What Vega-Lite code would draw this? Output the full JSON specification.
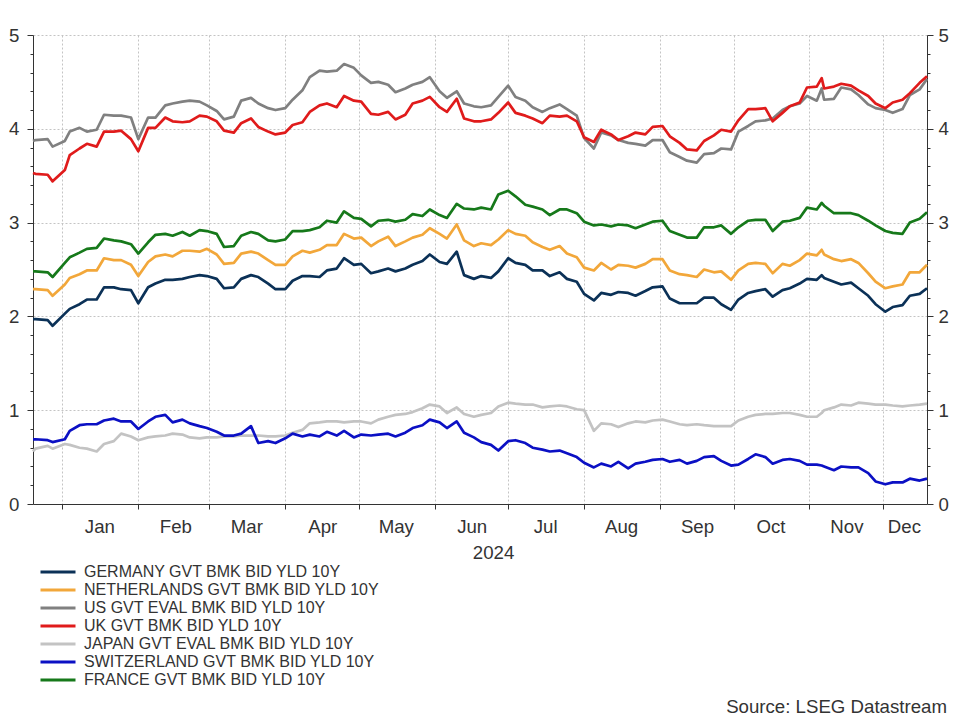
{
  "$schema": "https://vega.github.io/schema/vega-lite/v6.json",
  "width": 894,
  "height": 469,
  "autosize": {"type": "none"},
  "padding": {"left": 33, "top": 35, "right": 33, "bottom": 216},
  "background": "white",
  "datasets": {
    "yields": [
      {"date": "2023-12-20", "DE": 1.97, "NL": 2.29, "US": 3.87, "UK": 3.53, "JP": 0.56, "CH": 0.69, "FR": 2.48},
      {"date": "2023-12-21", "DE": 1.97, "NL": 2.29, "US": 3.88, "UK": 3.52, "JP": 0.59, "CH": 0.69, "FR": 2.48},
      {"date": "2023-12-26", "DE": 1.96, "NL": 2.28, "US": 3.89, "UK": 3.51, "JP": 0.62, "CH": 0.68, "FR": 2.47},
      {"date": "2023-12-28", "DE": 1.90, "NL": 2.22, "US": 3.81, "UK": 3.44, "JP": 0.59, "CH": 0.66, "FR": 2.42},
      {"date": "2024-01-02", "DE": 2.03, "NL": 2.34, "US": 3.87, "UK": 3.56, "JP": 0.64, "CH": 0.69, "FR": 2.57},
      {"date": "2024-01-04", "DE": 2.08, "NL": 2.41, "US": 3.97, "UK": 3.72, "JP": 0.63, "CH": 0.78, "FR": 2.63},
      {"date": "2024-01-08", "DE": 2.13, "NL": 2.45, "US": 4.01, "UK": 3.79, "JP": 0.60, "CH": 0.84, "FR": 2.68},
      {"date": "2024-01-11", "DE": 2.18, "NL": 2.49, "US": 3.97, "UK": 3.84, "JP": 0.59, "CH": 0.85, "FR": 2.72},
      {"date": "2024-01-15", "DE": 2.18, "NL": 2.49, "US": 3.99, "UK": 3.81, "JP": 0.56, "CH": 0.85, "FR": 2.73},
      {"date": "2024-01-18", "DE": 2.31, "NL": 2.62, "US": 4.15, "UK": 3.97, "JP": 0.64, "CH": 0.89, "FR": 2.83},
      {"date": "2024-01-22", "DE": 2.31, "NL": 2.60, "US": 4.14, "UK": 3.97, "JP": 0.67, "CH": 0.91, "FR": 2.81},
      {"date": "2024-01-25", "DE": 2.29, "NL": 2.60, "US": 4.14, "UK": 3.98, "JP": 0.75, "CH": 0.88, "FR": 2.80},
      {"date": "2024-01-29", "DE": 2.28, "NL": 2.55, "US": 4.12, "UK": 3.89, "JP": 0.72, "CH": 0.88, "FR": 2.77},
      {"date": "2024-02-01", "DE": 2.14, "NL": 2.43, "US": 3.89, "UK": 3.76, "JP": 0.68, "CH": 0.80, "FR": 2.67},
      {"date": "2024-02-05", "DE": 2.31, "NL": 2.58, "US": 4.12, "UK": 4.01, "JP": 0.71, "CH": 0.88, "FR": 2.79},
      {"date": "2024-02-08", "DE": 2.35, "NL": 2.64, "US": 4.12, "UK": 4.01, "JP": 0.72, "CH": 0.93, "FR": 2.87},
      {"date": "2024-02-12", "DE": 2.39, "NL": 2.66, "US": 4.25, "UK": 4.12, "JP": 0.73, "CH": 0.95, "FR": 2.88},
      {"date": "2024-02-15", "DE": 2.39, "NL": 2.64, "US": 4.27, "UK": 4.08, "JP": 0.75, "CH": 0.87, "FR": 2.86},
      {"date": "2024-02-19", "DE": 2.40, "NL": 2.70, "US": 4.29, "UK": 4.07, "JP": 0.74, "CH": 0.90, "FR": 2.90},
      {"date": "2024-02-22", "DE": 2.42, "NL": 2.70, "US": 4.30, "UK": 4.08, "JP": 0.71, "CH": 0.86, "FR": 2.86},
      {"date": "2024-02-26", "DE": 2.44, "NL": 2.69, "US": 4.29, "UK": 4.14, "JP": 0.70, "CH": 0.83, "FR": 2.92},
      {"date": "2024-02-29", "DE": 2.43, "NL": 2.72, "US": 4.25, "UK": 4.13, "JP": 0.71, "CH": 0.81, "FR": 2.91},
      {"date": "2024-03-04", "DE": 2.40, "NL": 2.66, "US": 4.19, "UK": 4.08, "JP": 0.71, "CH": 0.77, "FR": 2.88},
      {"date": "2024-03-07", "DE": 2.30, "NL": 2.56, "US": 4.10, "UK": 3.98, "JP": 0.72, "CH": 0.73, "FR": 2.74},
      {"date": "2024-03-11", "DE": 2.31, "NL": 2.57, "US": 4.13, "UK": 3.96, "JP": 0.72, "CH": 0.73, "FR": 2.75},
      {"date": "2024-03-14", "DE": 2.40, "NL": 2.67, "US": 4.30, "UK": 4.06, "JP": 0.73, "CH": 0.75, "FR": 2.86},
      {"date": "2024-03-18", "DE": 2.44, "NL": 2.69, "US": 4.33, "UK": 4.11, "JP": 0.73, "CH": 0.83, "FR": 2.90},
      {"date": "2024-03-21", "DE": 2.42, "NL": 2.67, "US": 4.27, "UK": 4.02, "JP": 0.73, "CH": 0.65, "FR": 2.88},
      {"date": "2024-03-25", "DE": 2.35, "NL": 2.60, "US": 4.22, "UK": 3.97, "JP": 0.72, "CH": 0.67, "FR": 2.81},
      {"date": "2024-03-28", "DE": 2.29, "NL": 2.55, "US": 4.20, "UK": 3.94, "JP": 0.72, "CH": 0.65, "FR": 2.80},
      {"date": "2024-04-01", "DE": 2.29, "NL": 2.55, "US": 4.22, "UK": 3.96, "JP": 0.73, "CH": 0.70, "FR": 2.82},
      {"date": "2024-04-04", "DE": 2.38, "NL": 2.64, "US": 4.31, "UK": 4.04, "JP": 0.76, "CH": 0.75, "FR": 2.91},
      {"date": "2024-04-08", "DE": 2.43, "NL": 2.70, "US": 4.41, "UK": 4.07, "JP": 0.79, "CH": 0.72, "FR": 2.91},
      {"date": "2024-04-11", "DE": 2.43, "NL": 2.68, "US": 4.55, "UK": 4.18, "JP": 0.86, "CH": 0.74, "FR": 2.92},
      {"date": "2024-04-15", "DE": 2.42, "NL": 2.71, "US": 4.62, "UK": 4.25, "JP": 0.87, "CH": 0.72, "FR": 2.95},
      {"date": "2024-04-18", "DE": 2.49, "NL": 2.76, "US": 4.61, "UK": 4.27, "JP": 0.88, "CH": 0.77, "FR": 3.02},
      {"date": "2024-04-22", "DE": 2.51, "NL": 2.76, "US": 4.62, "UK": 4.23, "JP": 0.88, "CH": 0.73, "FR": 3.00},
      {"date": "2024-04-25", "DE": 2.62, "NL": 2.88, "US": 4.69, "UK": 4.35, "JP": 0.87, "CH": 0.78, "FR": 3.12},
      {"date": "2024-04-29", "DE": 2.55, "NL": 2.83, "US": 4.65, "UK": 4.30, "JP": 0.88, "CH": 0.71, "FR": 3.05},
      {"date": "2024-05-02", "DE": 2.56, "NL": 2.84, "US": 4.57, "UK": 4.29, "JP": 0.88, "CH": 0.74, "FR": 3.04},
      {"date": "2024-05-06", "DE": 2.46, "NL": 2.75, "US": 4.49, "UK": 4.16, "JP": 0.86, "CH": 0.73, "FR": 2.96},
      {"date": "2024-05-09", "DE": 2.48, "NL": 2.80, "US": 4.50, "UK": 4.15, "JP": 0.90, "CH": 0.74, "FR": 3.02},
      {"date": "2024-05-13", "DE": 2.51, "NL": 2.85, "US": 4.47, "UK": 4.18, "JP": 0.93, "CH": 0.75, "FR": 3.03},
      {"date": "2024-05-16", "DE": 2.48, "NL": 2.75, "US": 4.39, "UK": 4.10, "JP": 0.95, "CH": 0.72, "FR": 3.01},
      {"date": "2024-05-20", "DE": 2.51, "NL": 2.80, "US": 4.43, "UK": 4.15, "JP": 0.96, "CH": 0.76, "FR": 3.03},
      {"date": "2024-05-23", "DE": 2.55, "NL": 2.84, "US": 4.47, "UK": 4.27, "JP": 0.98, "CH": 0.81, "FR": 3.09},
      {"date": "2024-05-27", "DE": 2.59, "NL": 2.87, "US": 4.50, "UK": 4.30, "JP": 1.02, "CH": 0.84, "FR": 3.07},
      {"date": "2024-05-30", "DE": 2.66, "NL": 2.94, "US": 4.55, "UK": 4.34, "JP": 1.06, "CH": 0.90, "FR": 3.14},
      {"date": "2024-06-03", "DE": 2.58, "NL": 2.88, "US": 4.40, "UK": 4.23, "JP": 1.04, "CH": 0.87, "FR": 3.08},
      {"date": "2024-06-06", "DE": 2.56, "NL": 2.83, "US": 4.33, "UK": 4.18, "JP": 0.97, "CH": 0.81, "FR": 3.05},
      {"date": "2024-06-10", "DE": 2.69, "NL": 2.98, "US": 4.40, "UK": 4.32, "JP": 1.03, "CH": 0.88, "FR": 3.20},
      {"date": "2024-06-13", "DE": 2.44, "NL": 2.81, "US": 4.27, "UK": 4.11, "JP": 0.96, "CH": 0.76, "FR": 3.15},
      {"date": "2024-06-17", "DE": 2.40, "NL": 2.75, "US": 4.24, "UK": 4.08, "JP": 0.93, "CH": 0.71, "FR": 3.14},
      {"date": "2024-06-20", "DE": 2.43, "NL": 2.78, "US": 4.23, "UK": 4.08, "JP": 0.95, "CH": 0.66, "FR": 3.16},
      {"date": "2024-06-24", "DE": 2.41, "NL": 2.76, "US": 4.25, "UK": 4.10, "JP": 0.97, "CH": 0.63, "FR": 3.14},
      {"date": "2024-06-27", "DE": 2.48, "NL": 2.82, "US": 4.34, "UK": 4.17, "JP": 1.04, "CH": 0.57, "FR": 3.30},
      {"date": "2024-07-01", "DE": 2.62, "NL": 2.92, "US": 4.46, "UK": 4.28, "JP": 1.08, "CH": 0.67, "FR": 3.34},
      {"date": "2024-07-04", "DE": 2.57, "NL": 2.88, "US": 4.34, "UK": 4.17, "JP": 1.07, "CH": 0.68, "FR": 3.28},
      {"date": "2024-07-08", "DE": 2.55, "NL": 2.86, "US": 4.30, "UK": 4.14, "JP": 1.06, "CH": 0.65, "FR": 3.19},
      {"date": "2024-07-11", "DE": 2.49, "NL": 2.79, "US": 4.23, "UK": 4.11, "JP": 1.06, "CH": 0.60, "FR": 3.17},
      {"date": "2024-07-15", "DE": 2.49, "NL": 2.74, "US": 4.18, "UK": 4.06, "JP": 1.03, "CH": 0.58, "FR": 3.14},
      {"date": "2024-07-18", "DE": 2.43, "NL": 2.71, "US": 4.22, "UK": 4.14, "JP": 1.04, "CH": 0.56, "FR": 3.08},
      {"date": "2024-07-22", "DE": 2.47, "NL": 2.75, "US": 4.26, "UK": 4.13, "JP": 1.05, "CH": 0.57, "FR": 3.14},
      {"date": "2024-07-25", "DE": 2.40, "NL": 2.67, "US": 4.21, "UK": 4.14, "JP": 1.04, "CH": 0.54, "FR": 3.14},
      {"date": "2024-07-29", "DE": 2.37, "NL": 2.63, "US": 4.14, "UK": 4.08, "JP": 1.01, "CH": 0.50, "FR": 3.10},
      {"date": "2024-08-01", "DE": 2.24, "NL": 2.52, "US": 3.90, "UK": 3.91, "JP": 1.00, "CH": 0.44, "FR": 3.01},
      {"date": "2024-08-05", "DE": 2.17, "NL": 2.49, "US": 3.79, "UK": 3.86, "JP": 0.78, "CH": 0.39, "FR": 2.97},
      {"date": "2024-08-08", "DE": 2.25, "NL": 2.57, "US": 3.96, "UK": 3.99, "JP": 0.86, "CH": 0.43, "FR": 2.98},
      {"date": "2024-08-12", "DE": 2.23, "NL": 2.50, "US": 3.93, "UK": 3.94, "JP": 0.85, "CH": 0.40, "FR": 2.96},
      {"date": "2024-08-15", "DE": 2.26, "NL": 2.55, "US": 3.88, "UK": 3.88, "JP": 0.82, "CH": 0.45, "FR": 2.98},
      {"date": "2024-08-19", "DE": 2.25, "NL": 2.54, "US": 3.85, "UK": 3.92, "JP": 0.86, "CH": 0.38, "FR": 2.97},
      {"date": "2024-08-22", "DE": 2.22, "NL": 2.52, "US": 3.84, "UK": 3.96, "JP": 0.88, "CH": 0.43, "FR": 2.94},
      {"date": "2024-08-26", "DE": 2.27, "NL": 2.56, "US": 3.82, "UK": 3.94, "JP": 0.87, "CH": 0.45, "FR": 2.98},
      {"date": "2024-08-29", "DE": 2.31, "NL": 2.61, "US": 3.88, "UK": 4.02, "JP": 0.89, "CH": 0.47, "FR": 3.01},
      {"date": "2024-09-02", "DE": 2.32, "NL": 2.61, "US": 3.88, "UK": 4.03, "JP": 0.90, "CH": 0.48, "FR": 3.02},
      {"date": "2024-09-05", "DE": 2.19, "NL": 2.49, "US": 3.75, "UK": 3.92, "JP": 0.88, "CH": 0.45, "FR": 2.91},
      {"date": "2024-09-09", "DE": 2.14, "NL": 2.45, "US": 3.70, "UK": 3.85, "JP": 0.85, "CH": 0.47, "FR": 2.87},
      {"date": "2024-09-12", "DE": 2.14, "NL": 2.44, "US": 3.66, "UK": 3.78, "JP": 0.84, "CH": 0.43, "FR": 2.84},
      {"date": "2024-09-16", "DE": 2.14, "NL": 2.42, "US": 3.64, "UK": 3.77, "JP": 0.85, "CH": 0.46, "FR": 2.84},
      {"date": "2024-09-19", "DE": 2.20, "NL": 2.50, "US": 3.73, "UK": 3.87, "JP": 0.84, "CH": 0.50, "FR": 2.95},
      {"date": "2024-09-23", "DE": 2.20, "NL": 2.47, "US": 3.74, "UK": 3.93, "JP": 0.83, "CH": 0.51, "FR": 2.95},
      {"date": "2024-09-26", "DE": 2.13, "NL": 2.48, "US": 3.79, "UK": 3.99, "JP": 0.83, "CH": 0.46, "FR": 2.97},
      {"date": "2024-09-30", "DE": 2.07, "NL": 2.39, "US": 3.78, "UK": 3.97, "JP": 0.83, "CH": 0.41, "FR": 2.88},
      {"date": "2024-10-03", "DE": 2.18, "NL": 2.49, "US": 3.97, "UK": 4.09, "JP": 0.89, "CH": 0.42, "FR": 2.95},
      {"date": "2024-10-07", "DE": 2.25, "NL": 2.56, "US": 4.03, "UK": 4.21, "JP": 0.93, "CH": 0.48, "FR": 3.02},
      {"date": "2024-10-10", "DE": 2.27, "NL": 2.57, "US": 4.08, "UK": 4.21, "JP": 0.95, "CH": 0.53, "FR": 3.03},
      {"date": "2024-10-14", "DE": 2.29, "NL": 2.56, "US": 4.09, "UK": 4.22, "JP": 0.96, "CH": 0.50, "FR": 3.03},
      {"date": "2024-10-17", "DE": 2.21, "NL": 2.46, "US": 4.11, "UK": 4.08, "JP": 0.96, "CH": 0.43, "FR": 2.91},
      {"date": "2024-10-21", "DE": 2.28, "NL": 2.56, "US": 4.20, "UK": 4.17, "JP": 0.97, "CH": 0.47, "FR": 3.01},
      {"date": "2024-10-24", "DE": 2.30, "NL": 2.54, "US": 4.24, "UK": 4.24, "JP": 0.97, "CH": 0.48, "FR": 3.02},
      {"date": "2024-10-28", "DE": 2.35, "NL": 2.60, "US": 4.27, "UK": 4.28, "JP": 0.95, "CH": 0.46, "FR": 3.05},
      {"date": "2024-10-31", "DE": 2.40, "NL": 2.67, "US": 4.35, "UK": 4.44, "JP": 0.93, "CH": 0.42, "FR": 3.16},
      {"date": "2024-11-04", "DE": 2.39, "NL": 2.65, "US": 4.30, "UK": 4.45, "JP": 0.93, "CH": 0.42, "FR": 3.14},
      {"date": "2024-11-06", "DE": 2.44, "NL": 2.71, "US": 4.43, "UK": 4.54, "JP": 0.97, "CH": 0.41, "FR": 3.21},
      {"date": "2024-11-07", "DE": 2.41, "NL": 2.66, "US": 4.31, "UK": 4.43, "JP": 1.00, "CH": 0.40, "FR": 3.18},
      {"date": "2024-11-11", "DE": 2.37, "NL": 2.61, "US": 4.32, "UK": 4.45, "JP": 1.03, "CH": 0.36, "FR": 3.10},
      {"date": "2024-11-14", "DE": 2.34, "NL": 2.59, "US": 4.44, "UK": 4.48, "JP": 1.06, "CH": 0.40, "FR": 3.10},
      {"date": "2024-11-18", "DE": 2.36, "NL": 2.61, "US": 4.42, "UK": 4.46, "JP": 1.05, "CH": 0.39, "FR": 3.10},
      {"date": "2024-11-21", "DE": 2.30, "NL": 2.57, "US": 4.36, "UK": 4.41, "JP": 1.08, "CH": 0.39, "FR": 3.08},
      {"date": "2024-11-25", "DE": 2.22, "NL": 2.46, "US": 4.26, "UK": 4.35, "JP": 1.07, "CH": 0.33, "FR": 3.02},
      {"date": "2024-11-28", "DE": 2.13, "NL": 2.37, "US": 4.22, "UK": 4.27, "JP": 1.06, "CH": 0.24, "FR": 2.97},
      {"date": "2024-12-02", "DE": 2.05, "NL": 2.30, "US": 4.20, "UK": 4.22, "JP": 1.06, "CH": 0.21, "FR": 2.91},
      {"date": "2024-12-05", "DE": 2.10, "NL": 2.32, "US": 4.17, "UK": 4.28, "JP": 1.05, "CH": 0.23, "FR": 2.89},
      {"date": "2024-12-09", "DE": 2.12, "NL": 2.34, "US": 4.21, "UK": 4.31, "JP": 1.04, "CH": 0.23, "FR": 2.88},
      {"date": "2024-12-12", "DE": 2.22, "NL": 2.47, "US": 4.36, "UK": 4.38, "JP": 1.05, "CH": 0.27, "FR": 3.00},
      {"date": "2024-12-16", "DE": 2.24, "NL": 2.47, "US": 4.42, "UK": 4.49, "JP": 1.06, "CH": 0.25, "FR": 3.04},
      {"date": "2024-12-19", "DE": 2.30, "NL": 2.55, "US": 4.53, "UK": 4.56, "JP": 1.07, "CH": 0.27, "FR": 3.11}
    ],
    "names": [
      {"code": "DE", "name": "GERMANY GVT BMK BID YLD 10Y"},
      {"code": "NL", "name": "NETHERLANDS GVT BMK BID YLD 10Y"},
      {"code": "US", "name": "US GVT EVAL BMK BID YLD 10Y"},
      {"code": "UK", "name": "UK GVT BMK BID YLD 10Y"},
      {"code": "JP", "name": "JAPAN GVT EVAL BMK BID YLD 10Y"},
      {"code": "CH", "name": "SWITZERLAND GVT BMK BID YLD 10Y"},
      {"code": "FR", "name": "FRANCE GVT BMK BID YLD 10Y"}
    ]
  },
  "data": {"name": "yields"},
  "transform": [
    {"fold": ["DE", "NL", "US", "UK", "JP", "CH", "FR"], "as": ["code", "yield"]},
    {"lookup": "code", "from": {"data": {"name": "names"}, "key": "code", "fields": ["name"]}}
  ],
  "title": {
    "text": "Source: LSEG Datastream",
    "orient": "bottom",
    "anchor": "end",
    "frame": "group",
    "font": "Liberation Sans",
    "fontSize": 18.67,
    "fontWeight": "normal",
    "color": "#333333",
    "dx": 20,
    "offset": 10
  },
  "layer": [
    {
      "mark": {"type": "line", "strokeWidth": 2.7, "strokeJoin": "round"},
      "encoding": {
        "x": {
          "field": "date",
          "type": "temporal",
          "scale": {
            "type": "utc",
            "nice": false,
            "domain": [
              {"year": 2023, "month": 12, "date": 20, "utc": true},
              {"year": 2024, "month": 12, "date": 19, "utc": true}
            ]
          },
          "axis": {
            "title": "2024",
            "titleFont": "Liberation Sans",
            "titleFontSize": 18.67,
            "titleFontWeight": "normal",
            "titleColor": "#333333",
            "titleAlign": "center",
            "titleBaseline": "alphabetic",
            "titleX": 460,
            "titleY": 54,
            "format": "%b",
            "tickCount": {"interval": "month", "step": 1},
            "tickSize": 5,
            "labelPadding": 8,
            "labelOffset": {"condition": {"test": "utcmonth(datum.value) == 11", "value": 21}, "value": 37},
            "labelFlush": false,
            "labelOverlap": false,
            "labelBound": false,
            "grid": true
          }
        },
        "y": {
          "field": "yield",
          "type": "quantitative",
          "scale": {"domain": [0, 5], "nice": false, "zero": false},
          "axis": {
            "orient": "left",
            "title": null,
            "values": [0, 0.2, 0.4, 0.6, 0.8, 1, 1.2, 1.4, 1.6, 1.8, 2, 2.2, 2.4, 2.6, 2.8, 3, 3.2, 3.4, 3.6, 3.8, 4, 4.2, 4.4, 4.6, 4.8, 5],
            "labelExpr": "datum.value % 1 == 0 ? '' + datum.value : ''",
            "tickSize": {"condition": {"test": "datum.value % 1 == 0", "value": 6}, "value": 3},
            "labelPadding": 8,
            "labelOverlap": false,
            "labelBound": false,
            "labelFlush": false,
            "grid": true,
            "gridOpacity": {"condition": {"test": "datum.value % 1 == 0 && datum.value > 0", "value": 1}, "value": 0}
          }
        },
        "color": {
          "field": "name",
          "type": "nominal",
          "scale": {
            "domain": [
              "GERMANY GVT BMK BID YLD 10Y",
              "NETHERLANDS GVT BMK BID YLD 10Y",
              "US GVT EVAL BMK BID YLD 10Y",
              "UK GVT BMK BID YLD 10Y",
              "JAPAN GVT EVAL BMK BID YLD 10Y",
              "SWITZERLAND GVT BMK BID YLD 10Y",
              "FRANCE GVT BMK BID YLD 10Y"
            ],
            "range": ["#0b3157", "#f2a73a", "#808080", "#e01b1b", "#c3c3c3", "#0b10c4", "#16791a"]
          },
          "legend": {
            "title": null,
            "orient": "none",
            "legendX": 6,
            "legendY": 529,
            "direction": "vertical",
            "symbolType": "stroke",
            "symbolSize": 1225,
            "symbolStrokeWidth": 3,
            "labelFont": "Liberation Sans",
            "labelFontSize": 16,
            "labelColor": "#333333",
            "labelOffset": 7,
            "labelLimit": 600,
            "clipHeight": 16,
            "rowPadding": 2,
            "padding": 0
          }
        }
      }
    },
    {
      "mark": {"type": "line", "opacity": 0},
      "encoding": {
        "x": {"field": "date", "type": "temporal"},
        "y": {
          "field": "yield",
          "type": "quantitative",
          "axis": {
            "orient": "right",
            "title": null,
            "values": [0, 0.2, 0.4, 0.6, 0.8, 1, 1.2, 1.4, 1.6, 1.8, 2, 2.2, 2.4, 2.6, 2.8, 3, 3.2, 3.4, 3.6, 3.8, 4, 4.2, 4.4, 4.6, 4.8, 5],
            "labelExpr": "datum.value % 1 == 0 ? '' + datum.value : ''",
            "tickSize": {"condition": {"test": "datum.value % 1 == 0", "value": 6}, "value": 3},
            "labelPadding": 5,
            "labelOverlap": false,
            "labelBound": false,
            "labelFlush": false,
            "grid": false
          }
        },
        "detail": {"field": "code", "type": "nominal"}
      }
    }
  ],
  "resolve": {"axis": {"y": "independent"}},
  "config": {
    "font": "Liberation Sans",
    "view": {"stroke": null},
    "axis": {
      "labelFont": "Liberation Sans",
      "labelFontSize": 18.67,
      "labelColor": "#333333",
      "domainColor": "#333333",
      "domainWidth": 1,
      "tickColor": "#333333",
      "tickWidth": 1,
      "gridColor": "#c4c4c4",
      "gridDash": [2, 2],
      "gridWidth": 1
    }
  }
}
